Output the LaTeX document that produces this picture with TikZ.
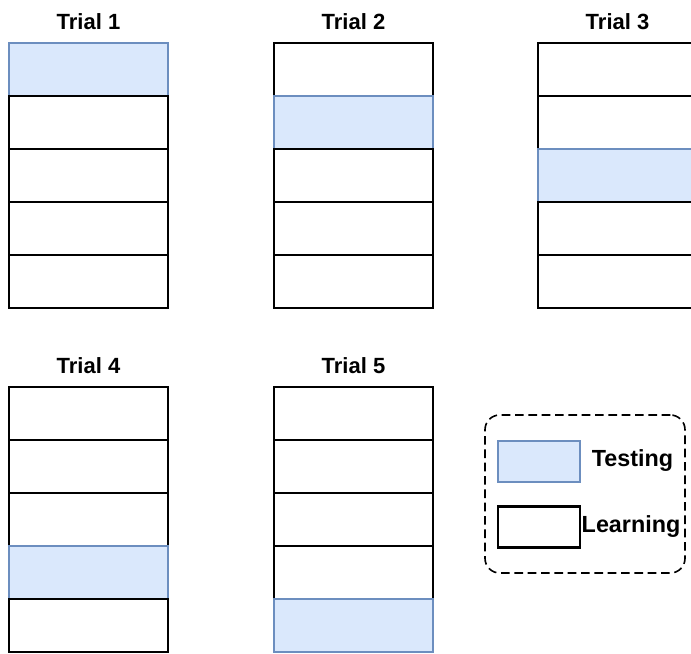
\documentclass[tikz,border=0pt]{standalone}
\usepackage{fontspec}
\setmainfont{Liberation Sans}
\usetikzlibrary{positioning}

\definecolor{testfill}{HTML}{DAE8FC}
\definecolor{testblue}{HTML}{6C8EBF}

\begin{document}
\begin{tikzpicture}[x=0.75pt, y=-0.75pt,
		fold/.style={draw=black, line width=1.7pt, fill=white, inner sep=0pt, outer sep=0pt,
			minimum width=119.25pt, minimum height=39.75pt},
		testfold/.style={fold, draw=testblue, fill=testfill},
		title/.style={font=\fontsize{16.5}{19}\selectfont\bfseries}]
	\path[use as bounding box] (0,0) rectangle (691,653);
	\clip (0,0) rectangle (691,653);

	% trial / left / top of its column of five folds
	\foreach \t/\x/\y in {1/9/43, 2/274/43, 3/538/43, 4/9/387, 5/274/387} {
		\ifnum\t=1 \def\kind{testfold}\else\def\kind{fold}\fi
		\node[\kind, anchor=north west] (t\t f1) at (\x,\y) {};
		\foreach \f [remember=\f as \g (initially 1)] in {2,...,5} {
			\ifnum\f=\t \def\kind{testfold}\else\def\kind{fold}\fi
			\node[\kind, below=0pt of t\t f\g] (t\t f\f) {};
		}
		\node[title] (title\t) at (\x+79.5,\y-21) {Trial \t};
	}

	% legend
	\node[draw, dashed, line width=1.2pt, dash pattern=on 6.5pt off 3.5pt, rounded corners=11pt,
		minimum width=150pt, minimum height=118.5pt] (legend) at (585,494) {};
	\node[testfold, minimum width=61.5pt, minimum height=30.75pt] (keytest) at (539,461.5) {};
	\node[fold, minimum width=61.5pt, minimum height=30.75pt] (keylearn) at (539,527) {};
	\node[title, font=\fontsize{17.5}{20}\selectfont\bfseries] (testing) at (632.5,461) {Testing};
	\node[title, font=\fontsize{17.5}{20}\selectfont\bfseries] (learning) at (631,527) {Learning};
\end{tikzpicture}
\end{document}
